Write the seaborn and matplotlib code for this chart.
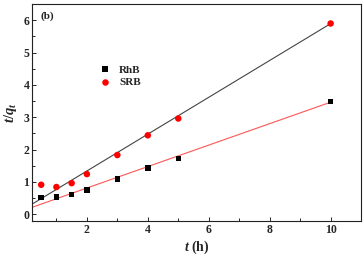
import matplotlib
matplotlib.use("Agg")
import matplotlib.pyplot as plt
import numpy as np
import pandas as pd
import seaborn as sns
from matplotlib.ticker import MultipleLocator

sns.set_theme(style="ticks")
plt.rcParams['font.family'] = ['Liberation Serif', 'DejaVu Serif']
plt.rcParams['mathtext.fontset'] = 'custom'
plt.rcParams['mathtext.it'] = 'Liberation Serif:italic:bold'
plt.rcParams['mathtext.rm'] = 'Liberation Serif:bold'

# data
t = [0.5, 1, 1.5, 2, 3, 4, 5, 10]
rhb = [0.51, 0.53, 0.60, 0.75, 1.09, 1.43, 1.73, 3.48]
srb = [0.91, 0.84, 0.96, 1.24, 1.83, 2.44, 2.96, 5.90]

# linear fit parameters (slope, intercept)
rhb_fit = (0.332, 0.145)
srb_fit = (0.570, 0.196)
fit_t = [0.2, 10]

df = pd.DataFrame({'t': t * 2, 'y': rhb + srb,
                   'dye': ['RhB'] * len(t) + ['SRB'] * len(t)})

fig = plt.figure(figsize=(3.64, 2.57), dpi=100)
ax = fig.add_axes([0.088, 0.139, 0.904, 0.845])

# fitted lines (colours swapped as in the original figure)
fit_rows = []
for name, (k, b) in [('RhB', rhb_fit), ('SRB', srb_fit)]:
    for x in fit_t:
        fit_rows.append({'t': x, 'y': k * x + b, 'dye': name})
fit_df = pd.DataFrame(fit_rows)
sns.lineplot(data=fit_df, x='t', y='y', hue='dye',
             palette={'RhB': '#ff5555', 'SRB': '#444444'},
             linewidth=0.8, legend=False, ax=ax)

sns.scatterplot(data=df, x='t', y='y', hue='dye', style='dye', size='dye',
                palette={'RhB': 'black', 'SRB': 'red'},
                markers={'RhB': 's', 'SRB': 'o'},
                sizes={'RhB': 15, 'SRB': 22},
                linewidth=0, ax=ax, zorder=3)

ax.set_xlim(0.2, 11)
ax.set_ylim(-0.22, 6.5)
ax.xaxis.set_major_locator(MultipleLocator(2))
ax.xaxis.set_minor_locator(MultipleLocator(1))
ax.yaxis.set_major_locator(MultipleLocator(1))
ax.yaxis.set_minor_locator(MultipleLocator(0.5))
ax.tick_params(which='both', direction='in', top=False, right=False,
               labelsize=8.5, width=0.7, pad=2)
ax.tick_params(which='major', length=3)
ax.tick_params(which='minor', length=2)
for lab in ax.get_xticklabels() + ax.get_yticklabels():
    lab.set_fontweight('bold')
for sp in ax.spines.values():
    sp.set_linewidth(0.8)
    sp.set_color('#222222')

ax.set_xlabel(r'$t$ (h)', fontsize=10, fontweight='bold', labelpad=2)
ax.set_ylabel(r'$t/q_t$', fontsize=10.5, fontweight='bold', labelpad=3)
ax.text(0.025, 0.965, '(b)', transform=ax.transAxes, fontsize=8,
        fontweight='bold', va='top', ha='left')

leg = ax.legend(loc='upper left', bbox_to_anchor=(0.158, 0.765), frameon=False,
                fontsize=8, handletextpad=0.25, labelspacing=0.25,
                markerscale=1.0)
for txt in leg.get_texts():
    txt.set_fontweight('bold')

fig.savefig('out.png', dpi=100)
